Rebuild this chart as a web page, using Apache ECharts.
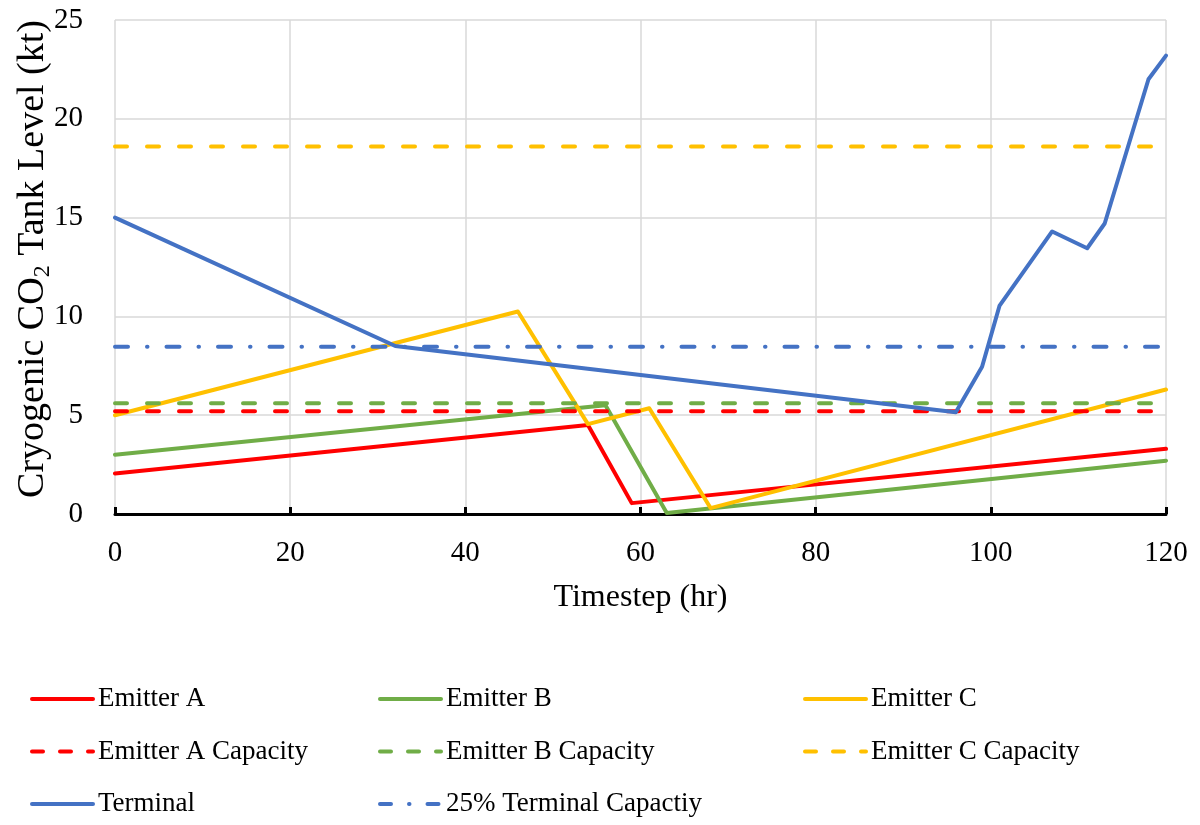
<!DOCTYPE html>
<html>
<head>
<meta charset="utf-8">
<script src="https://cdn.jsdelivr.net/npm/echarts@6/dist/echarts.min.js"></script>
<style>
  html, body { margin: 0; padding: 0; background: #fff; }
  #chart { width: 1200px; height: 825px; }
</style>
</head>
<body>
<div id="chart"></div>
<script>
// Tank levels (kt) over the timestep horizon (hr)
const emitterAX = [0, 54, 59, 120];
const emitterAY = [2.05, 4.5, 0.55, 3.3];
const emitterBX = [0, 56, 63, 120];
const emitterBY = [3.0, 5.5, 0.05, 2.7];
const emitterCX = [0, 46, 54, 61, 68, 120];
const emitterCY = [5.0, 10.25, 4.55, 5.35, 0.3, 6.3];
const terminalX = [0, 32, 96, 99, 101, 107, 111, 113, 118, 120];
const terminalY = [15.0, 8.5, 5.15, 7.45, 10.55, 14.3, 13.45, 14.7, 22.0, 23.2];

// Capacity reference levels (kt)
const emitterACapacity = 5.2;
const emitterBCapacity = 5.6;
const emitterCCapacity = 18.6;
const terminalQuarterCapacity = 8.47;

const xRange = [0, 120];

const FONT = '"Liberation Serif", "Times New Roman", serif';
const RED = '#FF0000', GREEN = '#70AD47', YELLOW = '#FFC000', BLUE = '#4472C4';
const LW = 4;
// dash patterns drawn with round caps (caps add LW/2 to each end)
const DASH = [12, 20];
const DASH_DOT = [13, 19, 0.5, 19];
const LEGEND_DASH = [11, 17];
const LEGEND_DASH_DOT = [11, 18, 0.5, 18];

function pairs(xs, ys) { return xs.map((x, i) => [x, ys[i]]); }
function flat(v) { return xRange.map(x => [x, v]); }

function lineSeries(name, data, color, dash) {
  return {
    name: name,
    type: 'line',
    data: data,
    symbol: 'none',
    lineStyle: { color: color, width: LW, type: dash || 'solid', cap: 'round', join: 'round' },
    itemStyle: { color: color },
    emphasis: { disabled: true }
  };
}

const series = [
  lineSeries('Emitter A', pairs(emitterAX, emitterAY), RED),
  lineSeries('Emitter B', pairs(emitterBX, emitterBY), GREEN),
  lineSeries('Emitter C', pairs(emitterCX, emitterCY), YELLOW),
  lineSeries('Emitter A Capacity', flat(emitterACapacity), RED, DASH),
  lineSeries('Emitter B Capacity', flat(emitterBCapacity), GREEN, DASH),
  lineSeries('Emitter C Capacity', flat(emitterCCapacity), YELLOW, DASH),
  lineSeries('Terminal', pairs(terminalX, terminalY), BLUE),
  lineSeries('25% Terminal Capactiy', flat(terminalQuarterCapacity), BLUE, DASH_DOT)
];

function legendColumn(left, items) {
  return {
    orient: 'vertical',
    left: left,
    top: 684,
    height: 140,
    padding: 0,
    itemWidth: 61,
    itemHeight: 14,
    itemGap: 22.5,
    selectedMode: false,
    data: items,
    itemStyle: { opacity: 0 },
    lineStyle: { width: LW, cap: 'round' },
    textStyle: { fontFamily: FONT, fontSize: 27, color: '#000', lineHeight: 30 }
  };
}

function dashedItem(name, dash) {
  return { name: name, lineStyle: { type: dash, width: LW, cap: 'round' } };
}

const chart = echarts.init(document.getElementById('chart'), null, { renderer: 'canvas' });
chart.setOption({
  animation: false,
  backgroundColor: '#fff',
  grid: { left: 115, right: 34, top: 20, bottom: 311, containLabel: false, outerBoundsMode: 'none' },
  legend: [
    legendColumn(30, ['Emitter A', dashedItem('Emitter A Capacity', LEGEND_DASH), 'Terminal']),
    legendColumn(378, ['Emitter B', dashedItem('Emitter B Capacity', LEGEND_DASH), dashedItem('25% Terminal Capactiy', LEGEND_DASH_DOT)]),
    legendColumn(803, ['Emitter C', dashedItem('Emitter C Capacity', LEGEND_DASH)])
  ],
  xAxis: {
    type: 'value',
    min: 0,
    max: 120,
    interval: 20,
    name: 'Timestep (hr)',
    nameLocation: 'middle',
    nameGap: 68,
    nameMoveOverlap: false,
    nameTextStyle: { fontFamily: FONT, fontSize: 32, color: '#000' },
    axisLine: { show: true, lineStyle: { color: '#000', width: 3 } },
    axisTick: { show: true, inside: true, length: 7, lineStyle: { color: '#000', width: 3 } },
    axisLabel: { fontFamily: FONT, fontSize: 29, color: '#000', margin: 25 },
    splitLine: { show: true, lineStyle: { color: '#D9D9D9', width: 1.5 } }
  },
  yAxis: {
    type: 'value',
    min: 0,
    max: 25,
    interval: 5,
    name: 'Cryogenic CO{sub|2} Tank Level (kt)',
    nameLocation: 'middle',
    nameRotate: 90,
    nameGap: 60,
    nameMoveOverlap: false,
    nameTextStyle: {
      fontFamily: FONT, fontSize: 38, color: '#000', lineHeight: 44,
      padding: [0, 0, 0, 16],
      rich: {
        sub: { fontFamily: FONT, fontSize: 24, color: '#000', lineHeight: 24, verticalAlign: 'bottom' }
      }
    },
    axisLine: { show: false },
    axisTick: { show: false },
    axisLabel: { fontFamily: FONT, fontSize: 29, color: '#000', margin: 32 },
    splitLine: { show: true, lineStyle: { color: '#D9D9D9', width: 1.5 } }
  },
  series: series
});
</script>
</body>
</html>
